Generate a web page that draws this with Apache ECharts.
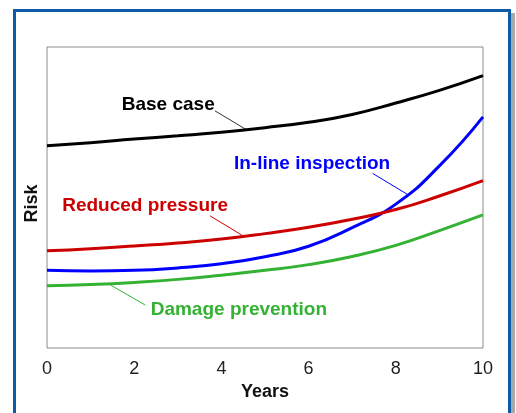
<!doctype html>
<html>
<head>
	<meta charset="utf-8">
	<style>
		html, body { margin: 0; padding: 0; background: #fff; }
		#main { width: 516px; height: 413px; }
	</style>
</head>
<body>
	<div id="main"></div>
<script src="https://cdn.jsdelivr.net/npm/echarts@6/dist/echarts.min.js"></script>
<script type="text/javascript">
	// years on the x axis
	var years = [0, 1, 2, 3, 4, 5, 6, 7, 8, 9, 10];
	var xTicks = [0, 2, 4, 6, 8, 10];
	// relative risk (no scale shown)
	var baseCase = [67.2, 68.2, 69.4, 70.5, 71.7, 73.2, 75.0, 77.6, 81.4, 85.6, 90.5];
	var inlineInspection = [25.8, 25.6, 25.8, 26.6, 28.0, 30.3, 33.8, 40.0, 47.8, 60.5, 76.8];
	var reducedPressure = [32.3, 33.0, 33.9, 34.9, 36.2, 38.0, 40.1, 42.8, 46.0, 50.5, 55.6];
	var damagePrevention = [20.7, 21.1, 21.8, 22.8, 24.2, 25.8, 27.7, 30.4, 34.1, 39.0, 44.2];

	// label text, label centre and leader line, all in data units
	var labelNames = ['Base case', 'In-line inspection', 'Reduced pressure', 'Damage prevention'];
	var labelColors = ['#000000', '#0000ff', '#cc0000', '#33b233'];
	var labelPos = [[2.78, 80.7], [6.08, 61.1], [2.25, 47.3], [4.40, 12.6]];
	var leaderFrom = [[3.85, 78.8], [7.47, 58.0], [3.74, 43.9], [1.46, 20.9]];
	var leaderTo = [[4.59, 72.4], [8.26, 51.1], [4.47, 37.5], [2.25, 14.3]];

	function pairs(vals) {
		return years.map(function(x, i) { return [x, vals[i]]; });
	}

	var seriesVals = [baseCase, inlineInspection, reducedPressure, damagePrevention];

	var myChart = echarts.init(document.getElementById('main'), null, { renderer: 'canvas' });
	var option = {
		animation: false,
		backgroundColor: '#fff',
		grid: {
			left: 47, right: 33, top: 47, bottom: 65,
			show: true, borderColor: '#8c8c8c', borderWidth: 1
		},
		xAxis: {
			type: 'value', min: 0, max: 10, interval: 2,
			name: 'Years', nameLocation: 'middle', nameGap: 33,
			nameTextStyle: { fontFamily: 'Liberation Sans', fontWeight: 'bold', fontSize: 18, color: '#111' },
			axisLine: { show: false }, axisTick: { show: false }, splitLine: { show: false },
			axisLabel: {
				margin: 12, fontFamily: 'Liberation Sans', fontSize: 18, color: '#222',
				customValues: xTicks
			}
		},
		yAxis: {
			type: 'value', min: 0, max: 100,
			name: 'Risk', nameLocation: 'middle', nameGap: 6, nameRotate: 90,
			nameTextStyle: {
				fontFamily: 'Liberation Sans', fontWeight: 'bold', fontSize: 18, color: '#111',
				padding: [0, 12, 0, 0]
			},
			axisLine: { show: false }, axisTick: { show: false }, splitLine: { show: false },
			axisLabel: { show: false }
		},
		series: seriesVals.map(function(v, i) {
			return {
				type: 'line', smooth: 0.5, symbol: 'none',
				data: pairs(v),
				lineStyle: { color: labelColors[i], width: 3 }
			};
		})
	};
	myChart.setOption(option);

	// frame, labels and leader lines placed through the chart's own scales
	function px(p) { return myChart.convertToPixel({ gridIndex: 0 }, p); }
	var g = [
		{ type: 'rect', shape: { x: 511, y: 13, width: 4, height: 420 }, style: { fill: '#a8a8a8' }, silent: true },
		{ type: 'rect', shape: { x: 14.5, y: 10.5, width: 495, height: 440 }, style: { fill: null, stroke: '#0d5aa7', lineWidth: 3 }, silent: true }
	];
	labelNames.forEach(function(name, i) {
		var c = px(labelPos[i]), a = px(leaderFrom[i]), b = px(leaderTo[i]);
		g.push({
			type: 'line', shape: { x1: a[0], y1: a[1], x2: b[0], y2: b[1] },
			style: { stroke: i === 0 ? '#333' : labelColors[i], lineWidth: 1 }, silent: true
		});
		g.push({
			type: 'text', x: c[0], y: c[1],
			style: {
				text: name, fill: labelColors[i], align: 'center', verticalAlign: 'middle',
				font: 'bold 19px "Liberation Sans"'
			}, silent: true
		});
	});
	myChart.setOption({ graphic: g });
</script>
</body>
</html>
